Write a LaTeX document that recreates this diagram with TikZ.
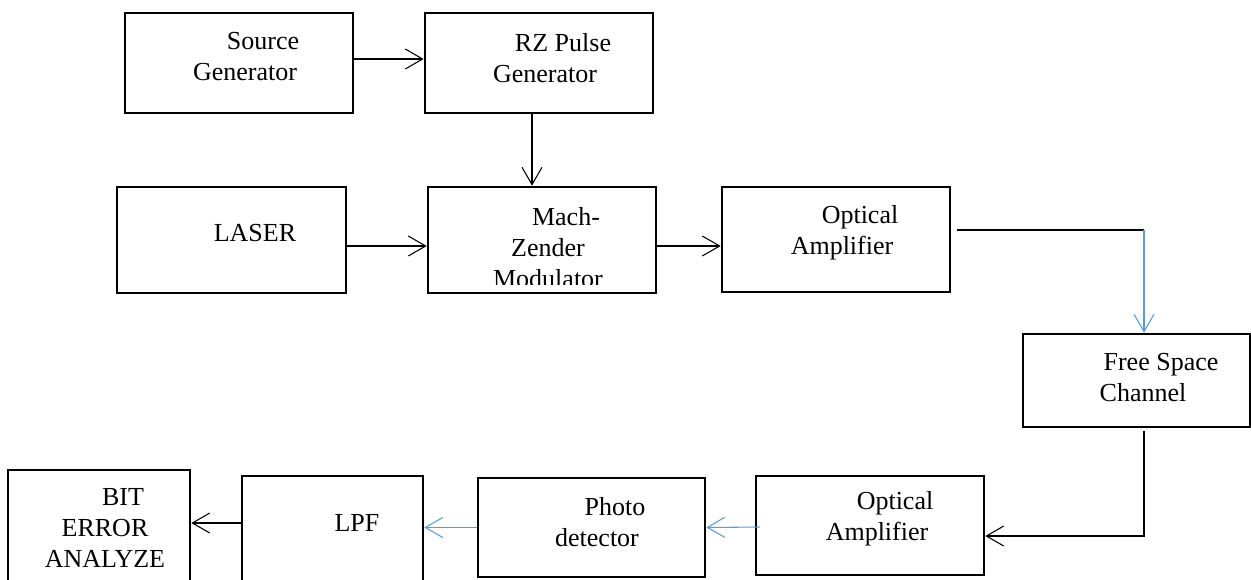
\documentclass[tikz,border=0pt]{standalone}
\usepackage{fontspec}
\setmainfont{Liberation Serif}
\usepackage{xcolor}
\usetikzlibrary{arrows.meta, calc, positioning}

\definecolor{linkblue}{HTML}{5B9BD5}
\newcommand{\lead}{\hspace*{27pt}}

\begin{document}
\begin{tikzpicture}[x=0.75pt, y=-0.75pt, >={Straight Barb[length=13pt, width=15pt]},
    blk/.style={draw, line width=2pt, inner sep=0pt, minimum width=171pt, minimum height=75pt},
    lbl/.style={align=center, inner sep=0pt, font=\fontsize{19.5}{23.3}\selectfont},
    wire/.style={line width=0.8pt, ->}]

\clip (0,0) rectangle (1251,579);

% ============================================================
% TRANSMITTER
% ============================================================

\node[blk] (src) at (239, 63) {};
\node[blk] (rz)  at (539, 63) {};
\node[blk, minimum width=171.75pt, minimum height=79.5pt] (laser) at (231.5, 240) {};
\node[blk, minimum height=79.5pt]  (mzm) at (542, 240) {};
\node[blk, minimum height=78.75pt] (oa1) at (836, 239.5) {};

\node[lbl] (src-t)   at (245, 56.5) {\lead Source\\Generator};
\node[lbl] (rz-t)    at (545, 58)   {\lead RZ Pulse\\Generator};
\node[lbl] (laser-t) at (255, 233)  {LASER};
\node[lbl] (oa1-t)   at (842, 232.5) {\lead Optical\\Amplifier};

% last line runs past the box and gets cut
\begin{scope}
    \clip (428,187) rectangle (656,284);
    \node[lbl] (mzm-t) at (548, 248) {\lead Mach-\\Zender\\Modulator};
\end{scope}

\draw[wire] ($(src.east)+(0,-4)$)   -- ($(rz.west)+(0,-4)$);
\draw[wire] ($(rz.south)+(-7,0)$)   -- ($(mzm.north)+(-10,0)$);
\draw[wire] ($(laser.east)+(0,6)$)  -- ($(mzm.west)+(0,6)$);
\draw[wire] ($(mzm.east)+(0,6)$)    -- ($(oa1.west)+(0,6.5)$);

% ============================================================
% CHANNEL AND RECEIVER
% ============================================================

\node[blk, minimum width=170.25pt, minimum height=69.75pt] (fsc) at (1136.5, 380.5) {};
\node[blk, minimum height=74.25pt] (oa2) at (870, 525.5) {};
\node[blk, minimum width=170.25pt, minimum height=74.25pt] (pd) at (591.5, 527.5) {};
\node[blk, minimum width=135.75pt, minimum height=80.25pt] (lpf) at (332.5, 529.5) {};
\node[blk, minimum width=136.5pt, minimum height=86.25pt] (bit) at (99, 527.5) {};

\node[lbl] (fsc-t) at (1143, 377.5) {\lead Free Space\\Channel};
\node[lbl] (oa2-t) at (877, 519)    {\lead Optical\\Amplifier};
\node[lbl] (pd-t)  at (597, 522.5)  {\lead Photo\\detector};
\node[lbl] (lpf-t) at (357, 523)    {LPF};
\node[lbl] (bit-t) at (105, 528)    {\lead BIT\\ERROR\\ANALYZE};

\coordinate (turn1) at (1144, 230);
\coordinate (turn2) at (1144, 536);

\draw[line width=0.8pt] ($(oa1.east)+(6,-9.5)$) -- (turn1);
\draw[wire, linkblue] (turn1) -- (turn1 |- fsc.north);
\draw[wire] ($(turn2 |- fsc.south)+(0,3)$) -- (turn2) -- (turn2 -| oa2.east);
\draw[wire, linkblue] ($(oa2.west)+(5,1.5)$) -- (pd.east);
\draw[wire, linkblue] (pd.west) -- (pd.west -| lpf.east);
\draw[wire] ($(lpf.west)+(0,-6.5)$) -- ($(bit.east)+(0,-4.5)$);

\end{tikzpicture}
\end{document}
